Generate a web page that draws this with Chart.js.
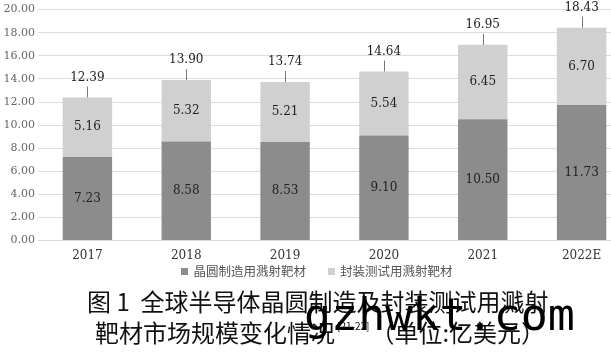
<!DOCTYPE html>
<html>
<head>
<meta charset="UTF-8">
<style>
body {
	margin: 0;
	background: #fff;
	width: 611px;
	height: 359px;
	overflow: hidden;
	position: relative;
}

#wrap {
	position: absolute;
	left: 0;
	top: 0;
	width: 640px;
	height: 295px;
}

.cap {
	position: absolute;
	font-family: "Noto Sans CJK SC", sans-serif;
	font-weight: 400;
	font-size: 24px;
	line-height: 24px;
	color: #111;
	white-space: nowrap;
}

.cap sup {
	font-size: 10px;
	line-height: 10px;
	vertical-align: 12px;
	margin: 0 1px 0 2px;
}

#mark {
	position: absolute;
	left: 304px;
	top: 292px;
	font-family: "DejaVu Sans Mono", monospace;
	font-size: 45px;
	line-height: 45px;
	color: #000;
	white-space: nowrap;
}
</style>
<title>溅射靶材市场规模</title>
<script src="https://cdn.jsdelivr.net/npm/chart.js@4"></script>
</head>

<body>
	<div id="wrap">
		<canvas id="myChart" width="640" height="295"></canvas>
	</div>
	<div class="cap" style="left: 87px; top: 289px;">图 1&nbsp; 全球半导体晶圆制造及封装测试用溅射</div>
	<div class="cap" style="left: 95px; top: 320px;">靶材市场规模变化情况<sup>[21-22]</sup>（单位:亿美元）</div>
	<div id="mark">gzhwkt.com</div>

	<script>
		var years = ["2017", "2018", "2019", "2020", "2021", "2022E"];
		var wafer = [7.23, 8.58, 8.53, 9.10, 10.50, 11.73];
		var packaging = [5.16, 5.32, 5.21, 5.54, 6.45, 6.70];
		var totals = [12.39, 13.90, 13.74, 14.64, 16.95, 18.43];

		var serif = "'DejaVu Serif', 'Liberation Serif', serif";

		var barLabels = {
			id : "barLabels",
			afterDatasetsDraw : function(chart) {
				var ctx = chart.ctx;
				ctx.save();
				ctx.font = "12px " + serif;
				ctx.fillStyle = "#222";
				ctx.textAlign = "center";
				ctx.textBaseline = "middle";
				chart.data.datasets.forEach(function(ds, i) {
					chart.getDatasetMeta(i).data.forEach(function(bar, j) {
						var mid = (bar.y + bar.base) / 2;
						ctx.fillText(ds.data[j].toFixed(2), bar.x, mid);
					});
				});
				// totals with a short leader line
				var y = chart.scales.y;
				chart.getDatasetMeta(1).data.forEach(function(bar, j) {
					var top = y.getPixelForValue(totals[j]);
					ctx.strokeStyle = "#777";
					ctx.lineWidth = 1;
					ctx.beginPath();
					ctx.moveTo(Math.round(bar.x) + 0.5, top);
					ctx.lineTo(Math.round(bar.x) + 0.5, top - 11);
					ctx.stroke();
					ctx.fillText(totals[j].toFixed(2), bar.x, top - 20);
				});
				ctx.restore();
			}
		};

		// small legend drawn under the x axis
		var legendRow = {
			id : "legendRow",
			afterDraw : function(chart) {
				var ctx = chart.ctx;
				var sets = chart.data.datasets;
				var gap = 22, box = 7, sp = 5;
				ctx.save();
				ctx.font = "12.5px 'Noto Sans CJK SC', sans-serif";
				ctx.textBaseline = "middle";
				var widths = sets.map(function(ds) {
					return box + sp + ctx.measureText(ds.label).width;
				});
				var total = widths[0] + widths[1] + gap;
				var x = 317 - total / 2;
				var y = chart.chartArea.bottom + 31;
				sets.forEach(function(ds, i) {
					ctx.fillStyle = ds.backgroundColor;
					ctx.fillRect(Math.round(x), Math.round(y - box / 2), box, box);
					ctx.fillStyle = "#555";
					ctx.fillText(ds.label, x + box + sp, y);
					x += widths[i] + gap;
				});
				ctx.restore();
			}
		};

		var chart = new Chart(document.getElementById("myChart"), {
			type : "bar",
			data : {
				labels : years,
				datasets : [ {
					label : "晶圆制造用溅射靶材",
					data : wafer,
					backgroundColor : "#8c8c8c"
				}, {
					label : "封装测试用溅射靶材",
					data : packaging,
					backgroundColor : "#d0d0d0"
				} ]
			},
			options : {
				responsive : false,
				animation : false,
				layout : {
					padding : {
						top : 9,
						right : 9,
						left : 0,
						bottom : 24
					}
				},
				datasets : {
					bar : {
						categoryPercentage : 1,
						barPercentage : 0.5
					}
				},
				scales : {
					x : {
						stacked : true,
						grid : {
							display : false,
							drawTicks : false
						},
						border : {
							color : "#d9d9d9"
						},
						ticks : {
							color : "#333",
							padding : 8,
							font : {
								family : serif,
								size : 12
							}
						}
					},
					y : {
						stacked : true,
						min : 0,
						max : 20,
						afterFit : function(s) {
							s.width = 38;
						},
						border : {
							display : false
						},
						grid : {
							color : "#dcdcdc",
							drawTicks : false
						},
						ticks : {
							stepSize : 2,
							color : "#666",
							padding : 3,
							font : {
								family : serif,
								size : 11
							},
							callback : function(v) {
								return v.toFixed(2);
							}
						}
					}
				},
				plugins : {
					legend : {
						display : false
					},
					tooltip : {
						enabled : false
					}
				}
			},
			plugins : [ barLabels, legendRow ]
		});
	</script>
</body>
</html>
